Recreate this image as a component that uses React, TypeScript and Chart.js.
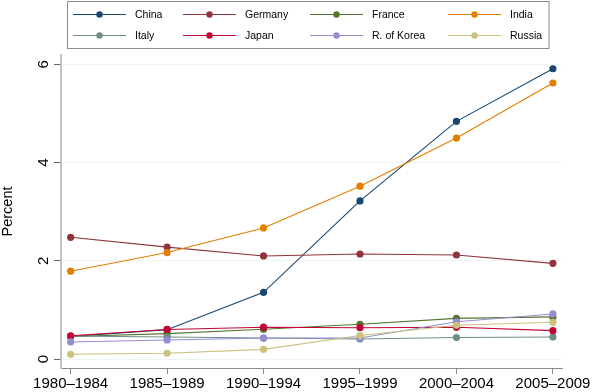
import React, { useEffect, useRef } from 'react';
import { Chart, registerables } from 'chart.js';

Chart.register(...registerables);

const categories = ['1980–1984', '1985–1989', '1990–1994', '1995–1999', '2000–2004', '2005–2009'];
const yTicks = [0, 2, 4, 6];
const yTitle = 'Percent';

const seriesNames = ['China', 'Germany', 'France', 'India', 'Italy', 'Japan', 'R. of Korea', 'Russia'];
const seriesColors = ['#1a476f', '#90353b', '#55752f', '#e37e00', '#6e8e84', '#c10534', '#938dd2', '#cac27e'];

const china = [0.46, 0.6, 1.36, 3.22, 4.84, 5.91];
const germany = [2.48, 2.28, 2.1, 2.14, 2.12, 1.95];
const france = [0.46, 0.52, 0.61, 0.71, 0.83, 0.86];
const india = [1.79, 2.17, 2.67, 3.52, 4.5, 5.62];
const italy = [0.47, 0.45, 0.43, 0.41, 0.44, 0.45];
const japan = [0.475, 0.605, 0.65, 0.64, 0.65, 0.58];
const korea = [0.35, 0.39, 0.43, 0.43, 0.76, 0.92];
const russia = [0.1, 0.12, 0.2, 0.48, 0.69, 0.75];

const seriesValues = [china, germany, france, india, italy, japan, korea, russia];

const FONT = '"Liberation Sans", Arial, Helvetica, sans-serif';

const decorPlugin = {
  id: 'decor',
  afterDraw(chart: any) {
    const ctx = chart.ctx as CanvasRenderingContext2D;
    const ys = chart.scales.y;
    ctx.save();
    // y tick labels, rotated
    ctx.fillStyle = '#000';
    ctx.font = `15px ${FONT}`;
    ctx.textAlign = 'center';
    ctx.textBaseline = 'middle';
    yTicks.forEach((v) => {
      const py = ys.getPixelForValue(v);
      ctx.save();
      ctx.translate(44, py);
      ctx.rotate(-Math.PI / 2);
      ctx.fillText(String(v), 0, 0);
      ctx.restore();
    });
    // y title
    ctx.font = `14.5px ${FONT}`;
    ctx.save();
    ctx.translate(8, (chart.chartArea.top + chart.chartArea.bottom) / 2);
    ctx.rotate(-Math.PI / 2);
    ctx.fillText(yTitle, 0, 0);
    ctx.restore();

    // legend
    ctx.fillStyle = '#fff';
    ctx.fillRect(67, 1, 482, 48);
    ctx.strokeStyle = '#8c8c8c';
    ctx.lineWidth = 1;
    ctx.strokeRect(67.5, 1.5, 481.5, 47);
    const colX = [73, 183, 310, 448];
    const rowY = [14.5, 35.5];
    ctx.font = `10.5px ${FONT}`;
    ctx.textAlign = 'left';
    ctx.textBaseline = 'middle';
    seriesNames.forEach((name, i) => {
      const x = colX[i % 4];
      const y = rowY[Math.floor(i / 4)];
      ctx.strokeStyle = seriesColors[i];
      ctx.lineWidth = 1;
      ctx.beginPath();
      ctx.moveTo(x, y);
      ctx.lineTo(x + 53, y);
      ctx.stroke();
      ctx.fillStyle = seriesColors[i];
      ctx.beginPath();
      ctx.arc(x + 26.5, y, 3.2, 0, Math.PI * 2);
      ctx.fill();
      ctx.fillStyle = '#000';
      ctx.fillText(name, x + 62, y + 0.5);
    });
    ctx.restore();
  },
};

export default function App() {
  const ref = useRef<HTMLCanvasElement | null>(null);
  useEffect(() => {
    if (!ref.current) return;
    const datasets = seriesNames.map((name, i) => ({
      label: name,
      data: seriesValues[i].map((v, j) => ({ x: j, y: v })),
      borderColor: seriesColors[i],
      backgroundColor: seriesColors[i],
      pointBackgroundColor: seriesColors[i],
      pointBorderWidth: 0,
      pointRadius: 3.6,
      borderWidth: 1.1,
      tension: 0,
      order: seriesNames.length - i,
    }));
    const chart = new Chart(ref.current, {
      type: 'line',
      data: { datasets },
      plugins: [decorPlugin],
      options: {
        animation: false,
        responsive: true,
        maintainAspectRatio: false,
        layout: { padding: { top: 55, right: 29, left: 0, bottom: 0 } },
        plugins: { legend: { display: false }, tooltip: { enabled: false } },
        scales: {
          x: {
            type: 'linear',
            min: -0.1,
            max: 5.1,
            afterBuildTicks: (scale: any) => {
              scale.ticks = categories.map((_, i) => ({ value: i }));
            },
            afterFit: (scale: any) => {
              scale.height = 24;
            },
            ticks: {
              autoSkip: false,
              maxRotation: 0,
              minRotation: 0,
              padding: 1,
              color: '#000',
              font: { family: FONT, size: 15 },
              callback: (v: any) => categories[v] ?? '',
            },
            grid: {
              drawOnChartArea: false,
              drawTicks: true,
              tickLength: 6,
              tickColor: '#8c8c8c',
            },
            border: { display: true, color: '#8c8c8c', width: 1 },
          },
          y: {
            type: 'linear',
            min: -0.18,
            max: 6.19,
            afterBuildTicks: (scale: any) => {
              scale.ticks = yTicks.map((v) => ({ value: v }));
            },
            afterFit: (scale: any) => {
              scale.width = 61;
            },
            ticks: { display: false },
            grid: {
              color: '#eef3f3',
              lineWidth: 1,
              drawTicks: true,
              tickLength: 7,
              tickColor: '#666',
            },
            border: { display: true, color: '#c2c2c2', width: 2 },
          },
        },
      },
    });
    return () => chart.destroy();
  }, []);
  return (
    <div style={{ position: 'fixed', left: 0, top: 0, width: 592, height: 392, background: '#fff' }}>
      <canvas ref={ref} />
    </div>
  );
}
